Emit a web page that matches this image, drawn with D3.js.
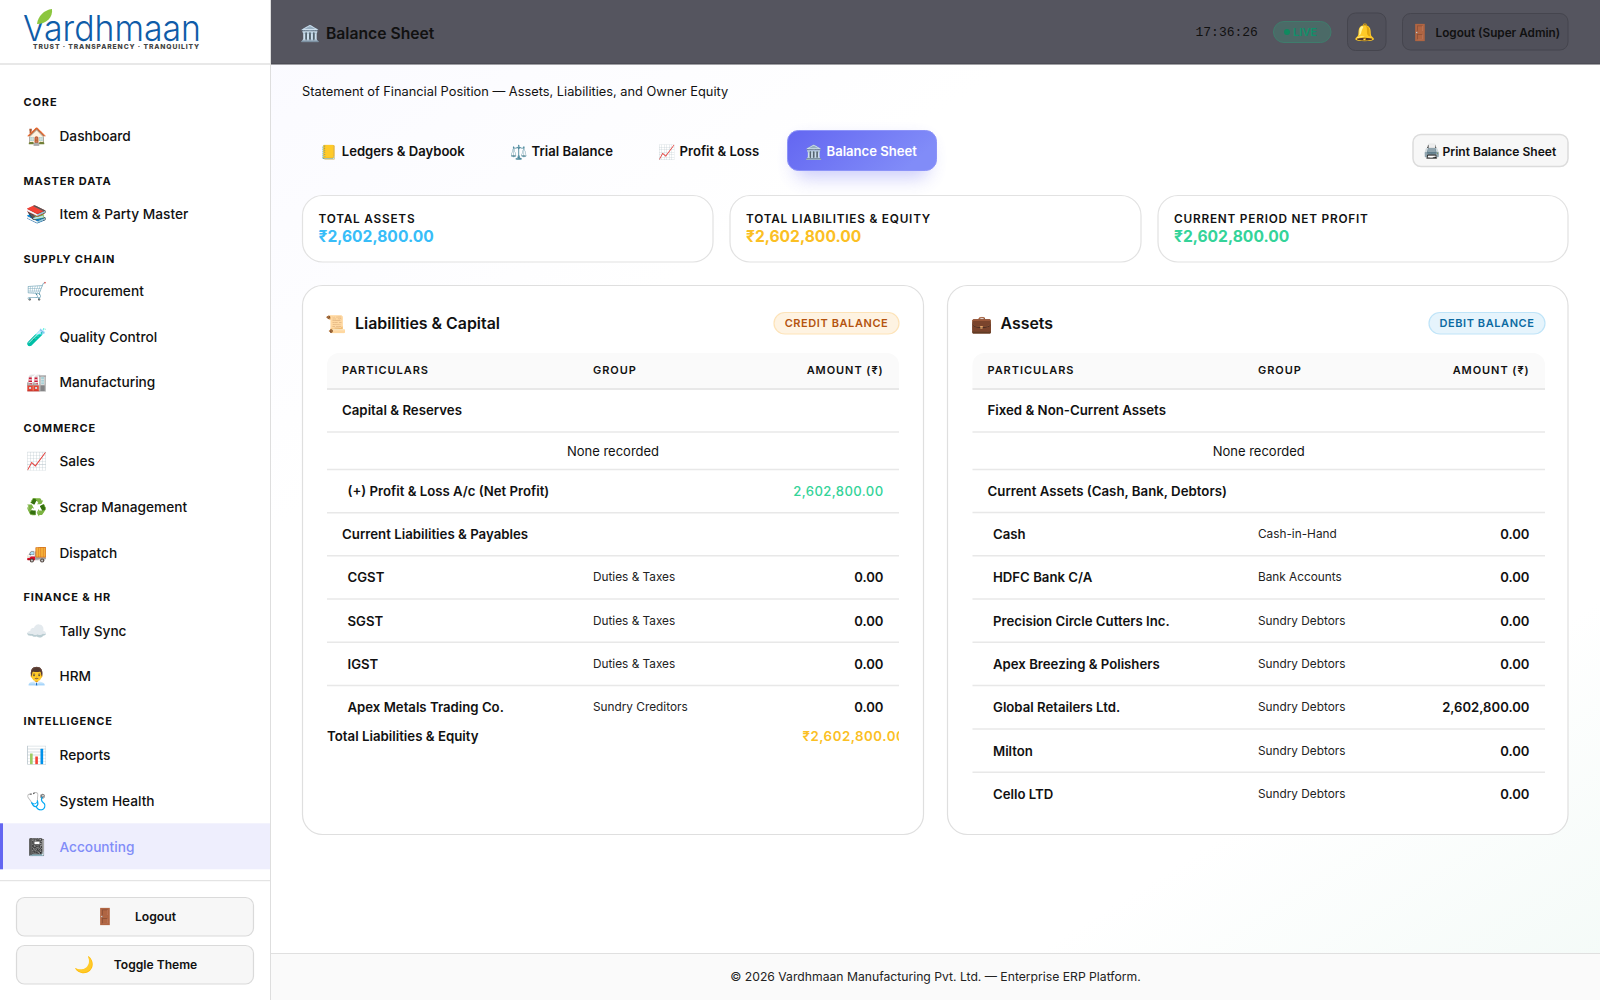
<!DOCTYPE html>
<html><head><meta charset="utf-8">
<script src="https://cdnjs.cloudflare.com/ajax/libs/d3/7.8.5/d3.min.js"></script>
<style>
html,body{margin:0;padding:0;background:#fff;overflow:hidden}
svg{display:block}
text{font-family:Inter,"Noto Sans",sans-serif;dominant-baseline:central;fill:#111}
.emo{font-family:"Noto Color Emoji","Apple Color Emoji","Segoe UI Emoji",sans-serif}
</style></head><body>
<script>
const navSections=["CORE","MASTER DATA","SUPPLY CHAIN","COMMERCE","FINANCE & HR","INTELLIGENCE"];
const navItems=[["Dashboard"],["Item & Party Master"],["Procurement","Quality Control","Manufacturing"],["Sales","Scrap Management","Dispatch"],["Tally Sync","HRM"],["Reports","System Health","Accounting"]];
const navIcons=[["🏠"],["📚"],["🛒","🧪","🏭"],["📈","♻️","🚚"],["☁️","👨‍💼"],["📊","🩺","📓"]];
const tabLabels=["Ledgers & Daybook","Trial Balance","Profit & Loss","Balance Sheet"];
const tabIcons=["📒","⚖️","📈","🏛️"];
const kpiLabels=["TOTAL ASSETS","TOTAL LIABILITIES & EQUITY","CURRENT PERIOD NET PROFIT"];
const kpiValues=["₹2,602,800.00","₹2,602,800.00","₹2,602,800.00"];
const tableHeads=["PARTICULARS","GROUP","AMOUNT (₹)"];
const liabKinds=["section","empty","item","section","item","item","item","item"];
const liabNames=["Capital & Reserves","None recorded","(+) Profit & Loss A/c (Net Profit)","Current Liabilities & Payables","CGST","SGST","IGST","Apex Metals Trading Co."];
const liabGroups=["","","","","Duties & Taxes","Duties & Taxes","Duties & Taxes","Sundry Creditors"];
const liabAmounts=["","","2,602,800.00","","0.00","0.00","0.00","0.00"];
const assetKinds=["section","empty","section","item","item","item","item","item","item","item"];
const assetNames=["Fixed & Non-Current Assets","None recorded","Current Assets (Cash, Bank, Debtors)","Cash","HDFC Bank C/A","Precision Circle Cutters Inc.","Apex Breezing & Polishers","Global Retailers Ltd.","Milton","Cello LTD"];
const assetGroups=["","","","Cash-in-Hand","Bank Accounts","Sundry Debtors","Sundry Debtors","Sundry Debtors","Sundry Debtors","Sundry Debtors"];
const assetAmounts=["","","","0.00","0.00","0.00","0.00","2,602,800.00","0.00","0.00"];

const svg=d3.select("body").append("svg").attr("width",1600).attr("height",1000).attr("viewBox","0 0 1600 1000");
const defs=svg.append("defs");
function grad(id,x1,y1,x2,y2,stops){const g=defs.append("linearGradient").attr("id",id).attr("x1",x1).attr("y1",y1).attr("x2",x2).attr("y2",y2);
 stops.forEach(s=>g.append("stop").attr("offset",s[0]).attr("stop-color",s[1]));}
grad("bg",0,0,1,1,[[0,"#f8f8ff"],[0.35,"#ffffff"],[0.8,"#ffffff"],[1,"#f3faf7"]]);
grad("tab",0,0,1,0.3,[[0,"#6366f1"],[1,"#818cf8"]]);
const blur=defs.append("filter").attr("id","glow").attr("x","-30%").attr("y","-50%").attr("width","160%").attr("height","220%");
blur.append("feGaussianBlur").attr("stdDeviation",9);
const clip=defs.append("clipPath").attr("id","tclip");clip.append("rect").attr("x",327).attr("y",340).attr("width",572).attr("height",420);

function T(p,x,y,s,o={}){const t=p.append("text").attr("x",x).attr("y",y).text(s)
 .attr("font-size",o.size||13).attr("font-weight",o.w||400).style("fill",o.fill||"#111");
 if(o.a)t.attr("text-anchor",o.a); if(o.ls)t.attr("letter-spacing",o.ls); if(o.ff)t.style("font-family",o.ff); if(o.tl)t.attr("textLength",o.tl).attr("lengthAdjust","spacingAndGlyphs"); if(o.base)t.style("dominant-baseline",o.base); return t;}
function E(p,x,y,s,size=16){return p.append("text").attr("class","emo").attr("x",x).attr("y",y).attr("text-anchor","middle").attr("font-size",size).text(s);}
function R(p,x0,y0,x1,y1,r,fill,stroke,sw){return p.append("rect").attr("x",x0).attr("y",y0).attr("width",x1-x0).attr("height",y1-y0).attr("rx",r).attr("fill",fill).attr("stroke",stroke||"none").attr("stroke-width",sw||0);}

// page background
svg.append("rect").attr("width",1600).attr("height",1000).attr("fill","url(#bg)");
svg.append("rect").attr("width",271).attr("height",1000).attr("fill","#fff");
svg.append("line").attr("x1",270.5).attr("x2",270.5).attr("y1",0).attr("y2",1000).attr("stroke","#dedede");

// logo
const logo=svg.append("g");
T(logo,23,40.5,"Vardhmaan",{size:36,w:300,fill:"#0f5ca8",ff:"Inter, Lato, sans-serif",tl:178,base:"alphabetic"});
T(logo,33,46.5,"TRUST · TRANSPARENCY · TRANQUILITY",{size:6.6,w:800,fill:"#444",ls:.85,tl:167});
logo.append("path").attr("d","M37 24 C38 16 44 10 52 9 C53 17 47 24 37 24Z").attr("fill","#8cc63f");
svg.append("line").attr("x1",0).attr("x2",270).attr("y1",64).attr("y2",64).attr("stroke","#e8e8e8").attr("stroke-width",2);

// sidebar
const side=svg.append("g");
const navTitleY=[102.3,181,258.7,427.5,597.4,721.2];
const navFirstY=[135.8,213.8,290.6,461,630.5,755];
navSections.forEach((sec,i)=>{
  T(side,23.5,navTitleY[i],sec,{size:11,w:700,ls:.85});
  navItems[i].forEach((it,j)=>{
    const cy=navFirstY[i]+j*45.9;
    const active=it==="Accounting";
    if(active){R(side,0,cy-23.5,270,cy+22.5,0,"#eeeefd");R(side,0,cy-23.5,3,cy+22.5,0,"#6366f1");}
    E(side,37,cy,navIcons[i][j],17);
    T(side,59.5,cy,it,{size:13.68,w:500,fill:active?"#818cf8":"#111"});
  });
});
svg.append("line").attr("x1",0).attr("x2",270).attr("y1",880.7).attr("y2",880.7).attr("stroke","#dedede");
[[897.5,936,"🚪",105,"Logout",155.5,12.2],[945.5,984,"🌙",84,"Toggle Theme",155.5,12.1]].forEach(b=>{
  R(side,16.5,b[0],253.5,b[1],8,"#f7f7f7","#dadada",1.2);
  E(side,b[3],(b[0]+b[1])/2,b[2],16);
  T(side,b[5],(b[0]+b[1])/2,b[4],{size:b[6],w:600,a:"middle"});
});

// header
const hd=svg.append("g");
R(hd,271,0,1600,64,0,"#55555f");
hd.append("line").attr("x1",271).attr("x2",1600).attr("y1",64).attr("y2",64).attr("stroke","#44444c");
E(hd,310,33,"🏛️",16);
T(hd,326,33,"Balance Sheet",{size:15.7,w:600,fill:"#111"});
T(hd,1195.5,32.5,"17:36:26",{size:13,fill:"#111",ff:"'Liberation Mono',monospace"});
R(hd,1273.5,21.5,1331,42.5,10.5,"#4b6a67","#3f7c6c",1);
hd.append("circle").attr("cx",1287).attr("cy",32).attr("r",3).attr("fill","#0f8a5f");
T(hd,1293,32,"LIVE",{size:11,w:600,fill:"#10916a"});
R(hd,1347.5,13,1386,50.5,8,"#50505a","#45454e",1);
E(hd,1365,32,"🔔",17);
R(hd,1402.5,13.5,1568,50,8,"#50505a","#45454e",1);
E(hd,1420,32.5,"🚪",16);
T(hd,1435.5,32.5,"Logout (Super Admin)",{size:11.75,w:600,fill:"#111"});

// subtitle
T(svg,302,91,"Statement of Financial Position — Assets, Liabilities, and Owner Equity",{size:12.82});

// tabs
const tabX=d3.scaleOrdinal().domain(tabLabels).range([341.8,531.6,679.6,826.5]);
R(svg,795,140,929,178,10,"#6366f1").attr("opacity",.32).attr("filter","url(#glow)");
R(svg,787.5,130.5,936.5,170.5,11,"url(#tab)","#8c93f8",1);
tabLabels.forEach((t,i)=>{
  const on=i===3, x=tabX(t);
  E(svg,x-12.5,151.5,tabIcons[i],14);
  T(svg,x,151.4,t,{size:13.1,w:600,fill:on?"#fff":"#111"});
});
R(svg,1413,134.5,1568,166.5,8,"#f7f7f7","#dcdcdc",1.5);
E(svg,1432,151,"🖨️",14);
T(svg,1442.5,151,"Print Balance Sheet",{size:12.05,w:600});

// KPI
const kpiX0=[302.5,730,1158], kpiX1=[713,1141,1568];
const kpiFill=["#38bdf8","#fbbf24","#34d399"];
kpiLabels.forEach((l,i)=>{
  R(svg,kpiX0[i],195.5,kpiX1[i],262,20,"#fff","#e2e2e2",1.2);
  T(svg,kpiX0[i]+16,218.5,l,{size:11.8,w:600,ls:.78});
  T(svg,kpiX0[i]+16,236.3,kpiValues[i],{size:15.6,w:700,fill:kpiFill[i]});
});

// panels
function panel(cfg){
  const g=svg.append("g");
  R(g,cfg.x0,285.5,cfg.x1,834.5,20,"#fff","#dfdfdf",1.2);
  E(g,cfg.tx0+9,323.5,cfg.icon,17);
  T(g,cfg.tx0+28,323.5,cfg.title,{size:15.9,w:600});
  const bw=cfg.badgeW;
  R(g,cfg.tx1-bw,312.5,cfg.tx1,334,11,cfg.bf,cfg.bs,1.2);
  T(g,cfg.tx1-bw/2,323,cfg.badge,{size:11,w:600,fill:cfg.bc,a:"middle",ls:.58});
  g.append("path").attr("d",`M${cfg.tx0} 389V365a12 12 0 0 1 12 -12H${cfg.tx1-12}a12 12 0 0 1 12 12V389Z`).attr("fill","#fafafa");
  g.append("line").attr("x1",cfg.tx0).attr("x2",cfg.tx1).attr("y1",389).attr("y2",389).attr("stroke","#e8e8e8").attr("stroke-width",2);
  const colX=[cfg.tx0+15,cfg.tx0+cfg.grp,cfg.tx1-16];
  tableHeads.forEach((h,i)=>T(g,i===2?colX[2]+.6:colX[i],370,h,{size:11,w:600,ls:.95,a:i===2?"end":"start"}));
  const hh={section:cfg.secH,empty:37.6,item:43.3};
  let y=389;
  cfg.kinds.forEach((k,i)=>{
    const h=hh[k], c=y+h/2, last=i===cfg.kinds.length-1;
    if(k==="empty"){T(g,(cfg.tx0+cfg.tx1)/2,c,cfg.names[i],{size:13,a:"middle"});}
    else if(k==="section"){T(g,colX[0],c,cfg.names[i],{size:13.25,w:600});}
    else{
      T(g,colX[0]+5.5,c,cfg.names[i],{size:13.2,w:600});
      T(g,colX[1],c,cfg.groups[i],{size:11.8,fill:"#222"});
      const green=cfg.amounts[i]==="2,602,800.00"&&cfg.greenAmt;
      T(g,colX[2]+.5,c,cfg.amounts[i],{size:13.1,w:green?500:600,fill:green?"#34d399":"#111",a:"end",ls:green?.4:0});
    }
    y+=h;
    if(!last)g.append("line").attr("x1",cfg.tx0).attr("x2",cfg.tx1).attr("y1",y).attr("y2",y).attr("stroke","#e8e8e8").attr("stroke-width",1.5);
  });
  return g;
}
const lp=panel({x0:302.5,x1:923.5,tx0:327,tx1:899,grp:266,icon:"📜",title:"Liabilities & Capital",badge:"CREDIT BALANCE",badgeW:125,bf:"#fef3e2",bs:"#fde3b8",bc:"#b4530f",kinds:liabKinds,names:liabNames,groups:liabGroups,amounts:liabAmounts,secH:42.9,greenAmt:true});
panel({x0:947.5,x1:1568,tx0:972.5,tx1:1545,grp:285.5,icon:"💼",title:"Assets",badge:"DEBIT BALANCE",badgeW:116,bf:"#e6f4fc",bs:"#bfe4f8",bc:"#0b6aa2",kinds:assetKinds,names:assetNames,groups:assetGroups,amounts:assetAmounts,secH:42.9,greenAmt:false});
T(lp,327,736,"Total Liabilities & Equity",{size:13.25,w:600});
const tot=lp.append("g").attr("clip-path","url(#tclip)");
T(tot,802.5,736,kpiValues[1],{size:13.3,w:600,fill:"#fbbf24",ls:.5});

// footer
const ft=svg.append("g");
R(ft,271,953.5,1600,1000,0,"#fafafa");
ft.append("line").attr("x1",271).attr("x2",1600).attr("y1",953.5).attr("y2",953.5).attr("stroke","#e0e0e0");
T(ft,935.5,976.5,"© 2026 Vardhmaan Manufacturing Pvt. Ltd. — Enterprise ERP Platform.",{size:12.18,a:"middle",fill:"#222"});
</script>
</body></html>
